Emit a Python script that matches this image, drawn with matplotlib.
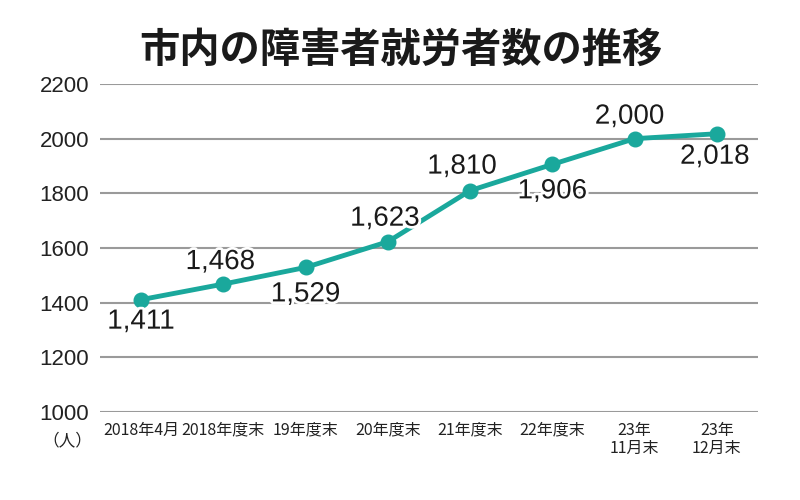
import matplotlib
matplotlib.use('Agg')
import matplotlib.pyplot as plt
import matplotlib.patheffects as pe

# データ
periods = ['2018年4月', '2018年度末', '19年度末', '20年度末',
           '21年度末', '22年度末', '23年\n11月末', '23年\n12月末']
workers = [1411, 1468, 1529, 1623, 1810, 1906, 2000, 2018]
value_labels = ['1,411', '1,468', '1,529', '1,623', '1,810', '1,906', '2,000', '2,018']
y_ticks = [1000, 1200, 1400, 1600, 1800, 2000, 2200]

# ラベルの位置 (ポイントからのずれ, px)
label_dx = [0, -3, 0, -3, -8, 0, -5, -2]
label_dy = [-22, 22, -27, 23, 24, -27, 22, -23]

plt.rcParams['font.family'] = ['Noto Sans CJK JP', 'DejaVu Sans']

teal = '#1aa89c'
grid_c = '#9a9a9a'

fig = plt.figure(figsize=(8, 5), dpi=100)
ax = fig.add_axes([100/800, 88/500, 658/800, 328/500])

x = list(range(len(periods)))
ax.plot(x, workers, color=teal, lw=3.5, marker='o', ms=10.5, zorder=3)

px = 0.72  # 1px -> pt
for xi, v, lab, dx, dy in zip(x, workers, value_labels, label_dx, label_dy):
    ax.annotate(lab, (xi, v), xytext=(dx*px, dy*px), textcoords='offset points',
                ha='center', va='center', fontsize=20, family='Liberation Sans',
                color='#1a1a1a', zorder=4,
                path_effects=[pe.withStroke(linewidth=4, foreground='white')])

ax.set_xlim(-0.5, 7.5)
ax.set_ylim(1000, 2200)
ax.set_yticks(y_ticks)
ax.set_yticklabels([str(t) for t in y_ticks], family='Liberation Sans', fontsize=16, color='#222222')
ax.set_xticks(x)
ax.set_xticklabels(periods, fontsize=11.5, color='#222222', linespacing=1.1)
ax.tick_params(axis='both', length=0)
ax.tick_params(axis='y', pad=8)
ax.tick_params(axis='x', pad=7)
for s in ax.spines.values():
    s.set_visible(False)
ax.grid(axis='y', color=grid_c, lw=1.5)
ax.set_axisbelow(True)

fig.text(92/800, 1 - 441/500, '（人）', ha='right', va='center', fontsize=12, color='#222222')
fig.text(401/800, 1 - 50/500, '市内の障害者就労者数の推移', ha='center', va='center',
         fontsize=29, fontweight='bold', color='#1a1a1a')

fig.savefig('out.png', dpi=100)
